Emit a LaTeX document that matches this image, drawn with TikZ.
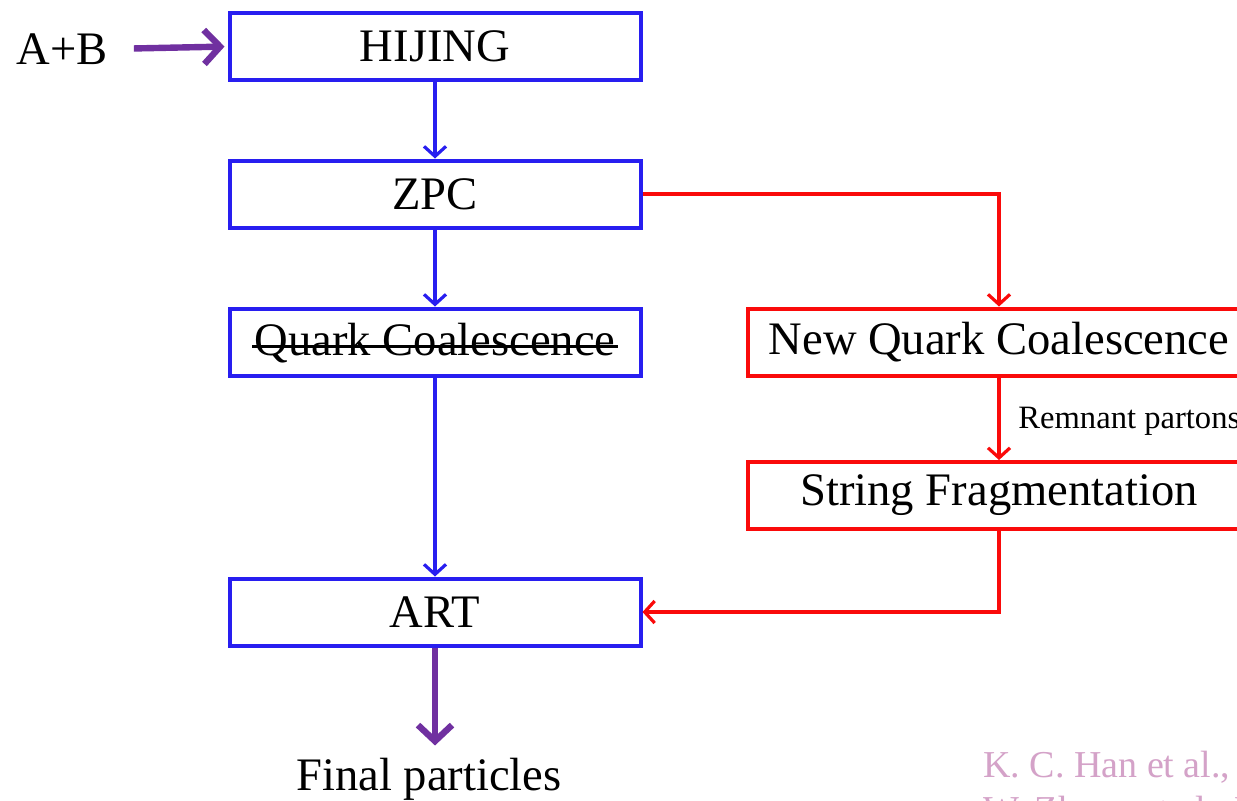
\documentclass[tikz,border=0pt]{standalone}
\usepackage{fontspec}
\setmainfont{Liberation Serif}
\usetikzlibrary{arrows.meta}
\definecolor{flowblue}{RGB}{40,30,240}
\definecolor{flowred}{RGB}{250,10,10}
\definecolor{flowpurple}{RGB}{112,48,160}
\definecolor{citepink}{RGB}{212,162,200}
\begin{document}
\begin{tikzpicture}[x=0.5pt, y=-0.5pt,
		every node/.style={font=\fontsize{23.3}{27}\selectfont, inner sep=0pt},
		bluebox/.style={draw=flowblue, line width=2pt, minimum width=205.5pt, minimum height=33.5pt},
		redbox/.style={draw=flowred, line width=2pt, minimum width=251pt, minimum height=33.5pt},
		bluearrow/.style={draw=flowblue, line width=1.6pt, -{Straight Barb[length=5pt, width=11pt, line width=1.6pt]}},
		redarrow/.style={draw=flowred, line width=1.6pt, -{Straight Barb[length=5pt, width=11pt, line width=1.6pt]}},
		purplearrow/.style={draw=flowpurple, line width=3.2pt, -{Straight Barb[length=8pt, width=17pt, line width=3.2pt]}},
		citation/.style={anchor=base west, text=citepink, font=\fontsize{19}{22.5}\selectfont}]
			\useasboundingbox (0,0) rectangle (1237,800);
			\clip (0,0) rectangle (1237,800);
			\fill[white] (0,0) rectangle (1237,800);

			\node (ab) at (62,49) {A+B};
			\node[bluebox] (hijing) at (435,46.5) {HIJING};
			\node[bluebox] (zpc) at (435,194) {ZPC};
			\node[bluebox] (qc) at (435,342) {};
			\node (qctext) at (435,343) {Quark Coalescence};
			\draw[line width=1.2pt] ([xshift=-1pt, yshift=4.5pt]qctext.base west) -- ([xshift=1pt, yshift=4.5pt]qctext.base east);
			\node[bluebox] (art) at (435,612) {ART};
			\node (final) at (429,779) {Final particles};

			\node[redbox] (nqc) at (999,342) {New Quark Coalescence};
			\node[redbox] (sf) at (999,495.5) {String Fragmentation};
			\node[anchor=west, font=\fontsize{16.3}{19}\selectfont] (remnant) at (1018,421) {Remnant partons};

			\node[citation] (cite1) at (983,777) {K. C. Han et al., PRC};
			\node[citation] (cite2) at (983,822) {W. Zhang et al., Phys.};

			\draw[purplearrow, shorten <=13pt, shorten >=1.5pt] (ab.east) -- (hijing.west);
			\draw[bluearrow] (hijing) -- (zpc);
			\draw[bluearrow] (zpc) -- (qc);
			\draw[bluearrow] (qc) -- (art);
			\draw[purplearrow, shorten >=6pt] (art.south) -- (art.south |- final.north);

			\draw[redarrow] (zpc.east) -| (nqc.north);
			\draw[redarrow] (nqc) -- (sf);
			\draw[redarrow] (sf.south) |- (art.east);
		\end{tikzpicture}
\end{document}
